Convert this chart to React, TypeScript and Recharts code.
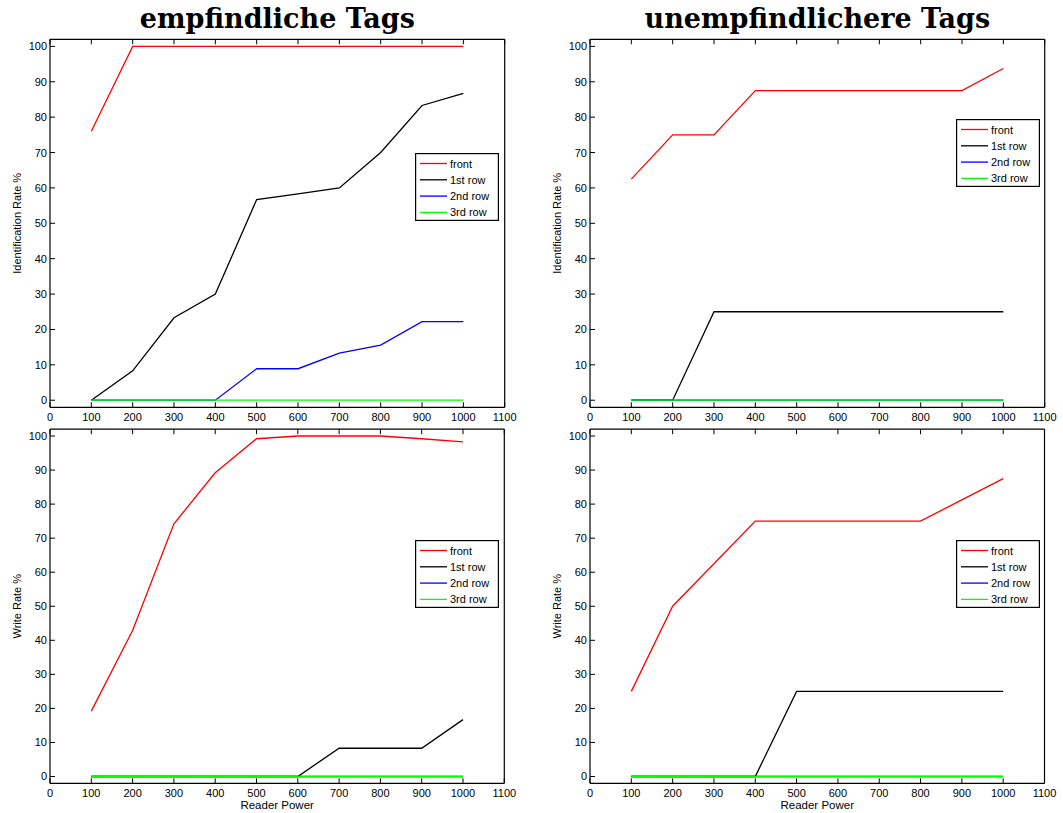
import { LineChart, Line, XAxis, YAxis, Legend } from "recharts"

// Reader power settings (x values of every series)
const powers = [100, 200, 300, 400, 500, 600, 700, 800, 900, 1000]
const xTicks = [0, 100, 200, 300, 400, 500, 600, 700, 800, 900, 1000, 1100]
const yTicks = [0, 10, 20, 30, 40, 50, 60, 70, 80, 90, 100]

// Identification rate, sensitive tags
const idSensFront = [76, 100, 100, 100, 100, 100, 100, 100, 100, 100]
const idSensRow1 = [0, 8.3, 23.3, 30, 56.7, 58.3, 60, 70, 83.3, 86.7]
const idSensRow2 = [0, 0, 0, 0, 8.9, 8.9, 13.3, 15.6, 22.2, 22.2]
const idSensRow3 = [0, 0, 0, 0, 0, 0, 0, 0, 0, 0]

// Identification rate, less sensitive tags
const idLessFront = [62.5, 75, 75, 87.5, 87.5, 87.5, 87.5, 87.5, 87.5, 93.75]
const idLessRow1 = [0, 0, 25, 25, 25, 25, 25, 25, 25, 25]
const idLessRow2 = [0, 0, 0, 0, 0, 0, 0, 0, 0, 0]
const idLessRow3 = [0, 0, 0, 0, 0, 0, 0, 0, 0, 0]

// Write rate, sensitive tags
const wrSensFront = [19.2, 42.9, 74.2, 89.2, 99.2, 100, 100, 100, 99.2, 98.3]
const wrSensRow1 = [0, 0, 0, 0, 0, 0, 8.3, 8.3, 8.3, 16.7]
const wrSensRow2 = [0, 0, 0, 0, 0, 0, 0, 0, 0, 0]
const wrSensRow3 = [0, 0, 0, 0, 0, 0, 0, 0, 0, 0]

// Write rate, less sensitive tags
const wrLessFront = [25, 50, 62.5, 75, 75, 75, 75, 75, 81.25, 87.5]
const wrLessRow1 = [0, 0, 0, 0, 25, 25, 25, 25, 25, 25]
const wrLessRow2 = [0, 0, 0, 0, 0, 0, 0, 0, 0, 0]
const wrLessRow3 = [0, 0, 0, 0, 0, 0, 0, 0, 0, 0]

const seriesKeys = ["front", "row1", "row2", "row3"]
const seriesNames = ["front", "1st row", "2nd row", "3rd row"]
const seriesColors = ["#ff0000", "#000000", "#0000ff", "#00ff00"]

const buildRows = (front: number[], r1: number[], r2: number[], r3: number[]) =>
  powers.map((p, i) => ({ power: p, front: front[i], row1: r1[i], row2: r2[i], row3: r3[i] }))

const SANS = "'Liberation Sans', Arial, Helvetica, sans-serif"
const SERIF = "'DejaVu Serif', serif"
const TICK = 5

function BottomTick({ x, y, payload }: any) {
  return (
    <g>
      <line x1={x} x2={x} y1={y} y2={y - TICK} stroke="#000" strokeWidth={1} />
      <text x={x} y={y + 13.4} textAnchor="middle" fontSize={11} fontFamily={SANS} fill="#000">
        {payload.value}
      </text>
    </g>
  )
}

function TopTick({ x, y }: any) {
  return <line x1={x} x2={x} y1={y} y2={y + TICK} stroke="#000" strokeWidth={1} />
}

function LeftTick({ x, y, payload }: any) {
  return (
    <g>
      <line x1={x} x2={x + TICK} y1={y} y2={y} stroke="#000" strokeWidth={1} />
      <text x={x - 3} y={y + 4} textAnchor="end" fontSize={11} fontFamily={SANS} fill="#000">
        {payload.value}
      </text>
    </g>
  )
}

function RightTick({ x, y }: any) {
  return <line x1={x} x2={x - TICK} y1={y} y2={y} stroke="#000" strokeWidth={1} />
}

function PanelTitle({ viewBox, text }: any) {
  if (!text) return null
  return (
    <text
      x={viewBox.x + viewBox.width / 2}
      y={viewBox.y + viewBox.height - 11}
      textAnchor="middle"
      fontSize={27}
      fontWeight="bold"
      fontFamily={SERIF}
      fill="#000"
    >
      {text}
    </text>
  )
}

function XTitle({ viewBox, text }: any) {
  if (!text) return null
  return (
    <text x={viewBox.x + viewBox.width / 2} y={viewBox.y + 26} textAnchor="middle" fontSize={11.5} fontFamily={SANS} fill="#000">
      {text}
    </text>
  )
}

function YTitle({ viewBox, text }: any) {
  const cx = viewBox.x + viewBox.width - 33
  const cy = viewBox.y + viewBox.height / 2
  return (
    <text
      x={cx}
      y={cy}
      dy="0.35em"
      transform={`rotate(-90, ${cx}, ${cy})`}
      textAnchor="middle"
      fontSize={11}
      fontFamily={SANS}
      fill="#000"
    >
      {text}
    </text>
  )
}

function LegendBox() {
  const w = 84
  const h = 68
  return (
    <svg width={w} height={h} style={{ display: "block" }}>
      <rect x={0.6} y={0.6} width={w - 1.2} height={h - 1.2} fill="#fff" stroke="#000" strokeWidth={1.2} />
      {seriesNames.map((name, i) => {
        const cy = 10.5 + i * 16.3
        return (
          <g key={name}>
            <line x1={5} x2={32} y1={cy} y2={cy} stroke={seriesColors[i]} strokeWidth={1.3} />
            <text x={35} y={cy + 4} fontSize={11} fontFamily={SANS} fill="#000">
              {name}
            </text>
          </g>
        )
      })}
    </svg>
  )
}

// left axis width, bottom axis height; the top and right axes are 1px strips
const YW = 48
const XH = 28

const panels = [
  {
    id: "tl", px: 0, py: 0, pw: 530, ph: 440, plot: [50, 39.3, 504.7, 407.3], legend: [415, 153],
    title: "empfindliche Tags", yTitle: "Identification Rate %", xTitle: "",
    rows: buildRows(idSensFront, idSensRow1, idSensRow2, idSensRow3),
  },
  {
    id: "tr", px: 530, py: 0, pw: 533, ph: 440, plot: [590, 39.3, 1044.7, 407.3], legend: [956, 118.5],
    title: "unempfindlichere Tags", yTitle: "Identification Rate %", xTitle: "",
    rows: buildRows(idLessFront, idLessRow1, idLessRow2, idLessRow3),
  },
  {
    id: "bl", px: 0, py: 420, pw: 530, ph: 393, plot: [50, 429.2, 504.3, 783.3], legend: [415, 540],
    title: "", yTitle: "Write Rate %", xTitle: "Reader Power",
    rows: buildRows(wrSensFront, wrSensRow1, wrSensRow2, wrSensRow3),
  },
  {
    id: "br", px: 530, py: 420, pw: 533, ph: 393, plot: [590, 429.2, 1044.5, 783.3], legend: [956, 540],
    title: "", yTitle: "Write Rate %", xTitle: "Reader Power",
    rows: buildRows(wrLessFront, wrLessRow1, wrLessRow2, wrLessRow3),
  },
]

function Panel({ p }: { p: (typeof panels)[number] }) {
  const [x0, y0, x1, y1] = p.plot
  const margin = {
    left: x0 - p.px - YW,
    top: y0 - p.py - 1,
    right: p.px + p.pw - x1 - 1,
    bottom: p.py + p.ph - y1 - XH,
  }
  const axisLine = { stroke: "#000", strokeWidth: 1.2 }
  return (
    <div style={{ position: "absolute", left: p.px, top: p.py, width: p.pw, height: p.ph }}>
      <LineChart width={p.pw} height={p.ph} data={p.rows} margin={margin}>
        <XAxis
          xAxisId="b"
          dataKey="power"
          type="number"
          domain={[0, 1100]}
          ticks={xTicks}
          interval={0}
          height={XH}
          tickSize={0}
          tickMargin={0}
          tickLine={false}
          axisLine={axisLine}
          tick={BottomTick}
          label={<XTitle text={p.xTitle} />}
        />
        <XAxis
          xAxisId="t"
          orientation="top"
          dataKey="power"
          type="number"
          domain={[0, 1100]}
          ticks={xTicks}
          interval={0}
          height={1}
          tickSize={0}
          tickMargin={0}
          tickLine={false}
          axisLine={axisLine}
          tick={TopTick}
          label={<PanelTitle text={p.title} />}
        />
        <YAxis
          yAxisId="l"
          type="number"
          domain={[-2, 102]}
          ticks={yTicks}
          interval={0}
          width={YW}
          tickSize={0}
          tickMargin={0}
          tickLine={false}
          axisLine={axisLine}
          tick={LeftTick}
          label={<YTitle text={p.yTitle} />}
        />
        <YAxis
          yAxisId="r"
          orientation="right"
          type="number"
          domain={[-2, 102]}
          ticks={yTicks}
          interval={0}
          width={1}
          tickSize={0}
          tickMargin={0}
          tickLine={false}
          axisLine={axisLine}
          tick={RightTick}
        />
        {seriesKeys.map((k, i) => (
          <Line
            key={k}
            xAxisId="b"
            yAxisId="l"
            type="linear"
            dataKey={k}
            name={seriesNames[i]}
            stroke={seriesColors[i]}
            strokeWidth={1.3}
            dot={false}
            activeDot={false}
            isAnimationActive={false}
          />
        ))}
        <Legend
          layout="vertical"
          align="center"
          verticalAlign="middle"
          content={<LegendBox />}
          wrapperStyle={{ left: p.legend[0] - p.px, top: p.legend[1] - p.py, width: 84, height: 68 }}
        />
      </LineChart>
    </div>
  )
}

export default function App() {
  return (
    <div style={{ position: "absolute", left: 0, top: 0, width: 1063, height: 813, background: "#fff" }}>
      {panels.map((p) => (
        <Panel key={p.id} p={p} />
      ))}
    </div>
  )
}
